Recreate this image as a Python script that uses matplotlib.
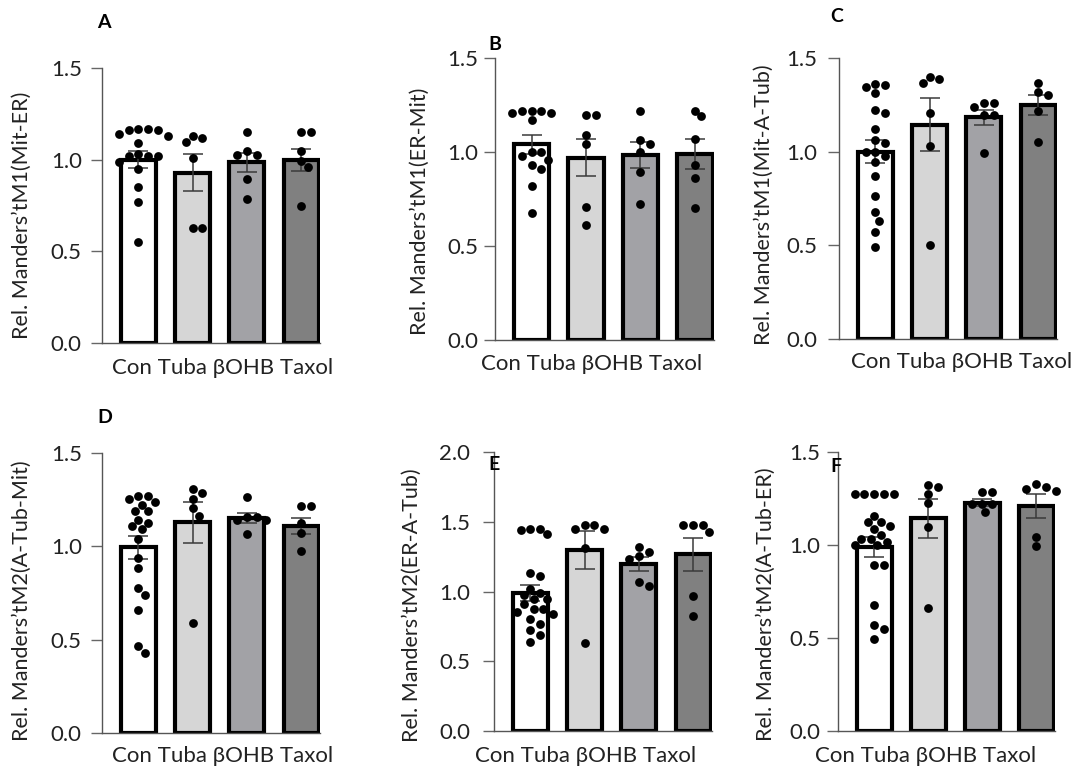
import numpy as np
import matplotlib
matplotlib.use("Agg")
import matplotlib.pyplot as plt

plt.rcParams['font.family'] = ['Lato', 'DejaVu Sans']

categories = ["Con", "Tuba", "βOHB", "Taxol"]
bar_colors = ["#ffffff", "#d6d6d6", "#a2a2a6", "#808080"]

# ---- Panel A ----
A_con = [1.17, 1.17, 1.16, 1.16, 1.14, 1.13, 1.09, 1.03, 1.02, 1.02, 1.02, 0.99, 0.95, 0.85, 0.77, 0.55]
A_tuba = [1.13, 1.12, 1.095, 1.01, 0.63, 0.63]
A_bohb = [1.15, 1.05, 1.025, 1.025, 0.895, 0.785]
A_taxol = [1.15, 1.15, 1.045, 0.995, 0.96, 0.75]
A_mean = [1.00, 0.93, 0.985, 1.00]
A_sem = [0.045, 0.10, 0.05, 0.06]

# ---- Panel B ----
B_con = [1.22, 1.22, 1.22, 1.21, 1.21, 1.17, 1.0, 1.0, 0.98, 0.96, 0.93, 0.91, 0.82, 0.675]
B_tuba = [1.196, 1.196, 1.09, 1.04, 0.71, 0.61]
B_bohb = [1.216, 1.063, 1.041, 1.0, 0.893, 0.724]
B_taxol = [1.22, 1.19, 1.07, 0.93, 0.86, 0.70]
B_mean = [1.04, 0.97, 0.985, 0.99]
B_sem = [0.05, 0.10, 0.068, 0.08]

# ---- Panel C ----
C_con = [1.345, 1.363, 1.354, 1.313, 1.222, 1.206, 1.121, 1.064, 1.044, 1.0, 1.0, 0.979,
         0.943, 0.872, 0.765, 0.676, 0.632, 0.573, 0.493]
C_tuba = [1.397, 1.388, 1.365, 1.205, 1.032, 0.504]
C_bohb = [1.26, 1.26, 1.24, 1.198, 1.198, 0.993]
C_taxol = [1.366, 1.32, 1.302, 1.219, 1.05]
C_mean = [1.00, 1.145, 1.185, 1.25]
C_sem = [0.063, 0.14, 0.04, 0.052]

# ---- Panel D ----
D_con = [1.268, 1.268, 1.254, 1.237, 1.223, 1.188, 1.188, 1.14, 1.126, 1.109, 1.091, 1.039,
         0.935, 0.882, 0.775, 0.737, 0.658, 0.468, 0.426]
D_tuba = [1.307, 1.284, 1.251, 1.205, 1.163, 0.591]
D_bohb = [1.263, 1.158, 1.158, 1.14, 1.14, 1.065]
D_taxol = [1.214, 1.214, 1.123, 1.07, 0.974]
D_mean = [0.995, 1.128, 1.153, 1.109]
D_sem = [0.062, 0.11, 0.027, 0.045]

# ---- Panel E ----
E_con = [1.41, 1.44, 1.45, 1.45, 1.136, 1.112, 1.017, 0.988, 0.974, 0.945, 0.945, 0.909,
         0.873, 0.873, 0.854, 0.838, 0.80, 0.766, 0.726, 0.687, 0.635]
E_tuba = [1.475, 1.475, 1.451, 1.451, 1.315, 0.63]
E_bohb = [1.322, 1.286, 1.255, 1.236, 1.069, 1.036]
E_taxol = [1.475, 1.475, 1.475, 1.427, 0.969, 0.826]
E_mean = [0.99, 1.296, 1.196, 1.267]
E_sem = [0.06, 0.135, 0.05, 0.12]

# ---- Panel F ----
F_con = [1.275, 1.275, 1.275, 1.275, 1.275, 1.158, 1.122, 1.122, 1.104, 1.086, 1.054, 1.032,
         1.032, 1.014, 1.0, 1.0, 0.892, 0.892, 0.676, 0.568, 0.547, 0.493]
F_tuba = [1.324, 1.311, 1.275, 1.227, 1.099, 0.663]
F_bohb = [1.284, 1.284, 1.22, 1.22, 1.22, 1.176]
F_taxol = [1.33, 1.311, 1.302, 1.288, 1.041, 0.993]
F_mean = [0.99, 1.144, 1.227, 1.209]
F_sem = [0.055, 0.105, 0.02, 0.065]

ylabels = {
    "A": "Rel. Manders\u2019tM1(Mit-ER)",
    "B": "Rel. Manders\u2019tM1(ER-Mit)",
    "C": "Rel. Manders\u2019tM1(Mit-A-Tub)",
    "D": "Rel. Manders\u2019tM2(A-Tub-Mit)",
    "E": "Rel. Manders\u2019tM2(ER-A-Tub)",
    "F": "Rel. Manders\u2019tM2(A-Tub-ER)",
}

panels = {
    "A": ([A_con, A_tuba, A_bohb, A_taxol], A_mean, A_sem, 1.5),
    "B": ([B_con, B_tuba, B_bohb, B_taxol], B_mean, B_sem, 1.5),
    "C": ([C_con, C_tuba, C_bohb, C_taxol], C_mean, C_sem, 1.5),
    "D": ([D_con, D_tuba, D_bohb, D_taxol], D_mean, D_sem, 1.5),
    "E": ([E_con, E_tuba, E_bohb, E_taxol], E_mean, E_sem, 2.0),
    "F": ([F_con, F_tuba, F_bohb, F_taxol], F_mean, F_sem, 1.5),
}

W, H = 1080, 770
# layout in pixels: left, right, y of zero, y of top value
layout = {
    "A": (102, 320, 343, 68),
    "B": (495, 714, 340, 58),
    "C": (839, 1057, 339, 58),
    "D": (102, 320, 733, 453),
    "E": (494, 712, 731, 452),
    "F": (838, 1055, 731, 452),
}
tick_pad = {"A": 6.5, "B": 4.0, "C": 7.5, "D": 6.5, "E": 9.0, "F": 4.5}
letter_pos = {"A": (97, 22), "B": (488, 45), "C": (830, 17),
              "D": (97, 418), "E": (488, 464), "F": (830, 466)}
ylabel_pos = {"A": (22, 215), "B": (420, 211), "C": (764, 205),
              "D": (22, 601), "E": (412, 605), "F": (766, 604)}
cat_pos = {"A": (223, 368), "B": (592, 364), "C": (962, 362),
           "D": (223, 756), "E": (586, 756), "F": (926, 756)}

fig = plt.figure(figsize=(W / 100, H / 100), dpi=100)

def swarm(ax, x0, vals, msize_px):
    # simple beeswarm in pixel space
    order = np.argsort(vals)[::-1]
    placed = []
    xs = np.zeros(len(vals))
    to_px = ax.transData.transform
    for i in order:
        v = vals[i]
        for k in range(0, 40):
            off = (k + 1) // 2 * (1 if k % 2 else -1) * 0.06
            if k == 0:
                off = 0.0
            p = to_px((x0 + off, v))
            ok = all(np.hypot(p[0] - q[0], p[1] - q[1]) >= msize_px * 0.95 for q in placed)
            if ok:
                xs[i] = x0 + off
                placed.append(p)
                break
    return xs

for key, (groups, means, sems, ytop) in panels.items():
    l, r, y0, yt = layout[key]
    ax = fig.add_axes([l / W, 1 - y0 / H, (r - l) / W, (y0 - yt) / H])
    x = np.arange(len(categories))
    ax.bar(x, means, width=0.645, color=bar_colors, edgecolor="black", linewidth=3.0, zorder=2)
    ax.errorbar(x, means, yerr=sems, fmt="none", ecolor="#3a3a3a", elinewidth=1.1,
                capsize=7, capthick=1.1, zorder=4)
    ax.set_xlim(-0.67, 3.35)
    ax.set_ylim(0, ytop)
    ticks = np.arange(0, ytop + 0.01, 0.5)
    ax.set_yticks(ticks)
    ax.set_yticklabels([f"{t:.1f}" for t in ticks], fontsize=16, color="#222222")
    ax.set_xticks([])
    for s in ["top", "right"]:
        ax.spines[s].set_visible(False)
    for s in ["left", "bottom"]:
        ax.spines[s].set_color("#555555")
        ax.spines[s].set_linewidth(1.0)
    ax.tick_params(axis="y", direction="out", length=8, width=1.0, color="#666666",
                   pad=tick_pad[key])
    fig.canvas.draw()
    for i, vals in enumerate(groups):
        vals = np.array(vals)
        xs = swarm(ax, x[i], vals, 9)
        ax.scatter(xs, vals, s=40, color="black", zorder=5, clip_on=False, linewidths=0)
    lx, ly = letter_pos[key]
    fig.text(lx / W, 1 - ly / H, key, fontsize=14, fontweight="bold", ha="left", va="center")
    px, py = ylabel_pos[key]
    fig.text(px / W, 1 - py / H, ylabels[key], rotation=90, fontsize=15.5, ha="center",
             va="center", color="#222222")
    cx, cy = cat_pos[key]
    fig.text(cx / W, 1 - cy / H, " ".join(categories), fontsize=16, ha="center", va="center",
             color="#222222")

fig.savefig("out.png", dpi=100)
